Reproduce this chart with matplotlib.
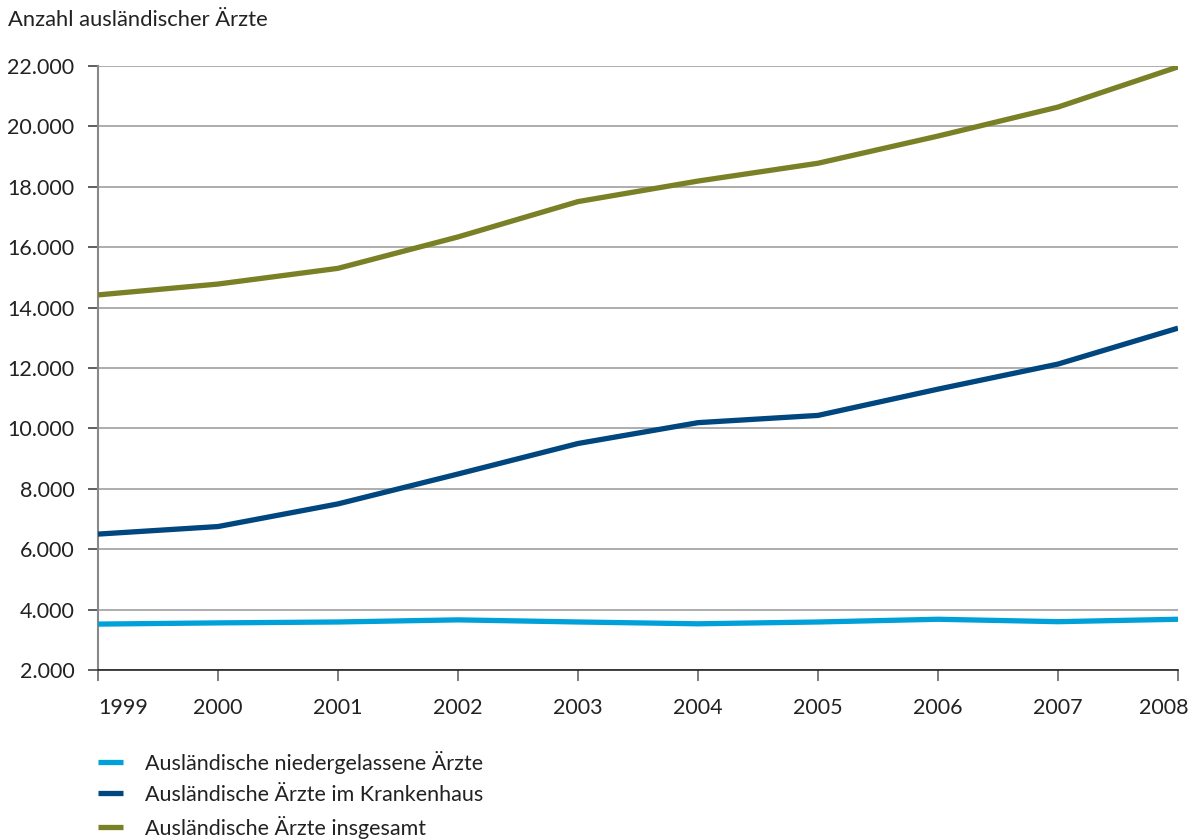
import matplotlib.pyplot as plt
from matplotlib.ticker import FuncFormatter
from matplotlib.transforms import ScaledTranslation

plt.rcParams['font.family'] = ['Lato', 'DejaVu Sans']

years = [1999, 2000, 2001, 2002, 2003, 2004, 2005, 2006, 2007, 2008]
niedergelassen = [3520, 3560, 3590, 3660, 3590, 3530, 3590, 3680, 3600, 3680]
krankenhaus = [6500, 6750, 7500, 8490, 9500, 10190, 10430, 11300, 12130, 13320]
insgesamt = [14420, 14780, 15300, 16340, 17510, 18190, 18780, 19680, 20640, 21970]

labels = ['Ausländische niedergelassene Ärzte',
          'Ausländische Ärzte im Krankenhaus',
          'Ausländische Ärzte insgesamt']
colors = ['#00a0d8', '#00467f', '#7a8026']

W, H = 1191, 839
fig = plt.figure(figsize=(W / 100, H / 100), dpi=100)
ax = fig.add_axes([98 / W, 1 - 670 / H, (1178 - 98) / W, (670 - 66) / H])

for series, label, color in zip([niedergelassen, krankenhaus, insgesamt], labels, colors):
    ax.plot(years, series, color=color, lw=3.8, label=label, solid_capstyle='butt', zorder=3)

ax.set_xlim(1999, 2008)
ax.set_ylim(2000, 22000)
ax.set_xticks(years)
ax.set_yticks(range(2000, 22001, 2000))
ax.yaxis.set_major_formatter(FuncFormatter(lambda v, p: f'{int(v):,}'.replace(',', '.')))

ax.grid(axis='y', color='#a0a0a0', lw=1.2, zorder=1)
ax.grid(axis='x', visible=False)
for side in ['top', 'right']:
    ax.spines[side].set_visible(False)
ax.spines['left'].set_color('#888888')
ax.spines['left'].set_linewidth(1.5)
ax.spines['bottom'].set_color('#222222')
ax.spines['bottom'].set_linewidth(1.2)

ax.tick_params(axis='y', length=7, width=1.2, color='#444444', labelsize=15.5, pad=10, labelcolor='#222222')
ax.tick_params(axis='x', length=8, width=1.2, color='#666666', labelsize=15.5, pad=12, labelcolor='#222222')

# first and last year labels sit inside the figure
xlabels = ax.get_xticklabels()
xlabels[0].set_ha('left')
xlabels[-1].set_ha('right')
xlabels[-1].set_transform(xlabels[-1].get_transform() + ScaledTranslation(10 / 100, 0, fig.dpi_scale_trans))

fig.text(8 / W, 1 - 20 / H, 'Anzahl ausländischer Ärzte', fontsize=15.8, color='#222222', va='center', ha='left')

fig.legend(loc='upper left', bbox_to_anchor=(98 / W, 1 - 751 / H), frameon=False,
           fontsize=15.5, handlelength=1.15, handletextpad=1.05, labelspacing=0.5,
           borderaxespad=0, borderpad=0, labelcolor='#222222')

fig.savefig('out.png', dpi=100)
